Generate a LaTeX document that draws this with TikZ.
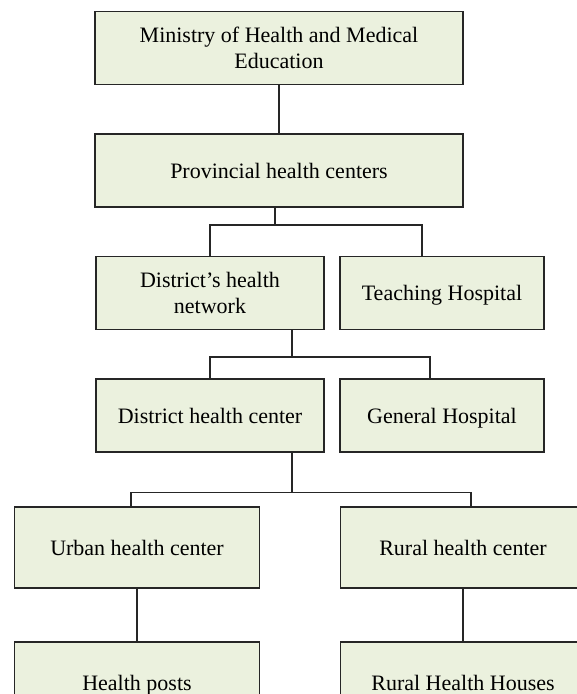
\documentclass[tikz,border=0pt]{standalone}
\usepackage{fontspec}
\setmainfont{Liberation Serif}
\definecolor{boxfill}{HTML}{EBF1DE}
\definecolor{boxline}{HTML}{262626}
\tikzset{
  orgbox/.style={draw=boxline,fill=boxfill,line width=1.4pt,align=center,
    font=\fontsize{22}{26.5}\selectfont,inner sep=0pt},
  oneline/.style={text height=17pt,text depth=2pt},
  wide/.style={minimum width=368pt,minimum height=73pt},
  leftbox/.style={minimum width=228pt,minimum height=73pt},
  rightbox/.style={minimum width=204pt,minimum height=73pt},
  lowbox/.style={minimum width=245pt,minimum height=81pt},
  link/.style={line width=1.2pt,boxline}
}

\begin{document}
\begin{tikzpicture}[x=1pt,y=-1pt]
\clip (0,0) rectangle (577,694);
% top of the chart
\node[orgbox,wide] (ministry) at (279,48) {Ministry of Health and Medical\\Education};
\node[orgbox,wide,oneline] (province) at (279,170.5) {Provincial health centers};
\node[orgbox,leftbox] (network) at (210,293) {District’s health\\network};
\node[orgbox,rightbox,oneline] (teaching) at (442,293) {Teaching Hospital};
\node[orgbox,leftbox,oneline] (district) at (210,415.5) {District health center};
\node[orgbox,rightbox,oneline] (general) at (442,415.5) {General Hospital};
\node[orgbox,lowbox,oneline] (urban) at (137,547.5) {Urban health center};
\node[orgbox,lowbox,oneline] (rural) at (463,547.5) {Rural health center};
\node[orgbox,lowbox,oneline] (posts) at (137,682.5) {Health posts};
\node[orgbox,lowbox,oneline] (houses) at (463,682.5) {Rural Health Houses};
% junctions
\coordinate (j1) at (275,225);
\coordinate (j2) at (292,357);
\coordinate (j3) at (292,492.5);
\coordinate (t1) at (422,257);
\coordinate (g1) at (430,379);
\coordinate (u1) at (131,507);
\coordinate (r1) at (471,507);
% connectors
\draw[link] (ministry) -- (province);
\draw[link] (province.south -| j1) -- (j1);
\draw[link] (network.north) |- (j1) -| (t1);
\draw[link] (network.south -| j2) -- (j2);
\draw[link] (district.north) |- (j2) -| (g1);
\draw[link] (district.south -| j3) -- (j3);
\draw[link] (u1) |- (j3) -| (r1);
\draw[link] (urban) -- (posts);
\draw[link] (rural) -- (houses);
\end{tikzpicture}
\end{document}
